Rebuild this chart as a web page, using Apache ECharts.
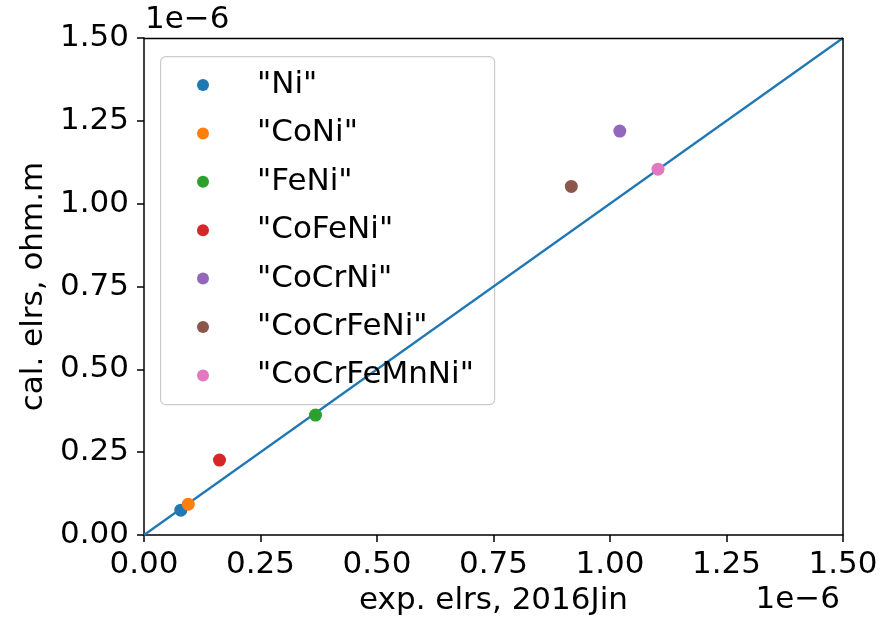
<!DOCTYPE html>
<html>
<head>
<meta charset="utf-8">
<script src="https://cdn.jsdelivr.net/npm/echarts@6/dist/echarts.min.js"></script>
<style>
  html, body { margin: 0; padding: 0; background: #fff; }
  #chart { width: 884px; height: 623px; }
</style>
</head>
<body>
<div id="chart"></div>
<script>
// Electrical resistivity: experimental (2016Jin) vs calculated, in units of 1e-6 ohm.m
const alloys = ['"Ni"', '"CoNi"', '"FeNi"', '"CoFeNi"', '"CoCrNi"', '"CoCrFeNi"', '"CoCrFeMnNi"'];
const expElrs = [0.079, 0.095, 0.368, 0.162, 1.021, 0.917, 1.103];
const calElrs = [0.075, 0.093, 0.362, 0.226, 1.219, 1.052, 1.104];
const colors = ['#1f77b4', '#ff7f0e', '#2ca02c', '#d62728', '#9467bd', '#8c564b', '#e377c2'];
const tickValues = [0, 0.25, 0.5, 0.75, 1.0, 1.25, 1.5];
const parityLine = [[0, 0], [1.5, 1.5]];

const FONT = 'DejaVu Sans';
const FS = 31;
const chart = echarts.init(document.getElementById('chart'), null, { renderer: 'canvas' });

const axisCommon = {
  type: 'value',
  min: tickValues[0],
  max: tickValues[tickValues.length - 1],
  interval: tickValues[1] - tickValues[0],
  nameLocation: 'middle',
  nameTextStyle: { fontFamily: FONT, fontSize: FS, color: '#000' },
  axisLine: { show: true, onZero: false, lineStyle: { color: '#000', width: 1.5 } },
  axisTick: { show: true, inside: false, length: 7, lineStyle: { color: '#000', width: 1.5 } },
  axisLabel: { fontFamily: FONT, fontSize: FS, color: '#000',
               formatter: v => v.toFixed(2) },
  splitLine: { show: false }
};

const series = alloys.map((name, i) => ({
  name: name,
  type: 'scatter',
  symbol: 'circle',
  symbolSize: 13,
  itemStyle: { color: colors[i], opacity: 1 },
  data: [[expElrs[i], calElrs[i]]],
  z: 3
}));
series.push({
  name: 'parity',
  type: 'line',
  data: parityLine,
  symbol: 'none',
  lineStyle: { color: '#1f77b4', width: 2.2 },
  z: 2,
  silent: true
});

chart.setOption({
  animation: false,
  backgroundColor: '#fff',
  grid: { left: 144, right: 41, top: 38, bottom: 88, containLabel: false },
  xAxis: Object.assign({}, axisCommon, {
    name: 'exp. elrs, 2016Jin', nameGap: 50, position: 'bottom',
    axisLabel: Object.assign({}, axisCommon.axisLabel, { margin: 14 })
  }),
  yAxis: Object.assign({}, axisCommon, {
    name: 'cal. elrs, ohm.m', nameGap: 95, position: 'left',
    axisLabel: Object.assign({}, axisCommon.axisLabel, { margin: 15 })
  }),
  legend: {
    data: alloys,
    orient: 'vertical',
    left: 192,
    top: 64.5,
    itemWidth: 12,
    itemHeight: 12,
    itemGap: 17.4,
    icon: 'circle',
    textStyle: { fontFamily: FONT, fontSize: FS, color: '#000', lineHeight: 31, padding: [0, 0, 0, 43] }
  },
  graphic: [
    // legend frame
    { type: 'rect', left: 160, top: 56, z: 1,
      shape: { width: 334, height: 348, r: 5 },
      style: { fill: 'rgba(255,255,255,0.8)', stroke: '#cccccc', lineWidth: 1.2 } },
    // right and top spines
    { type: 'line', z: 4, shape: { x1: 144, y1: 38.5, x2: 843, y2: 38.5 },
      style: { stroke: '#000', lineWidth: 1.5 } },
    { type: 'line', z: 4, shape: { x1: 843, y1: 38, x2: 843, y2: 535 },
      style: { stroke: '#000', lineWidth: 1.5 } },
    // offset multipliers
    { type: 'text', left: 145, top: 4, z: 4,
      style: { text: '1e\u22126', fontFamily: FONT, fontSize: FS, fill: '#000' } },
    { type: 'text', right: 44, top: 584, z: 4,
      style: { text: '1e\u22126', fontFamily: FONT, fontSize: FS, fill: '#000' } }
  ],
  series: series
});
</script>
</body>
</html>
